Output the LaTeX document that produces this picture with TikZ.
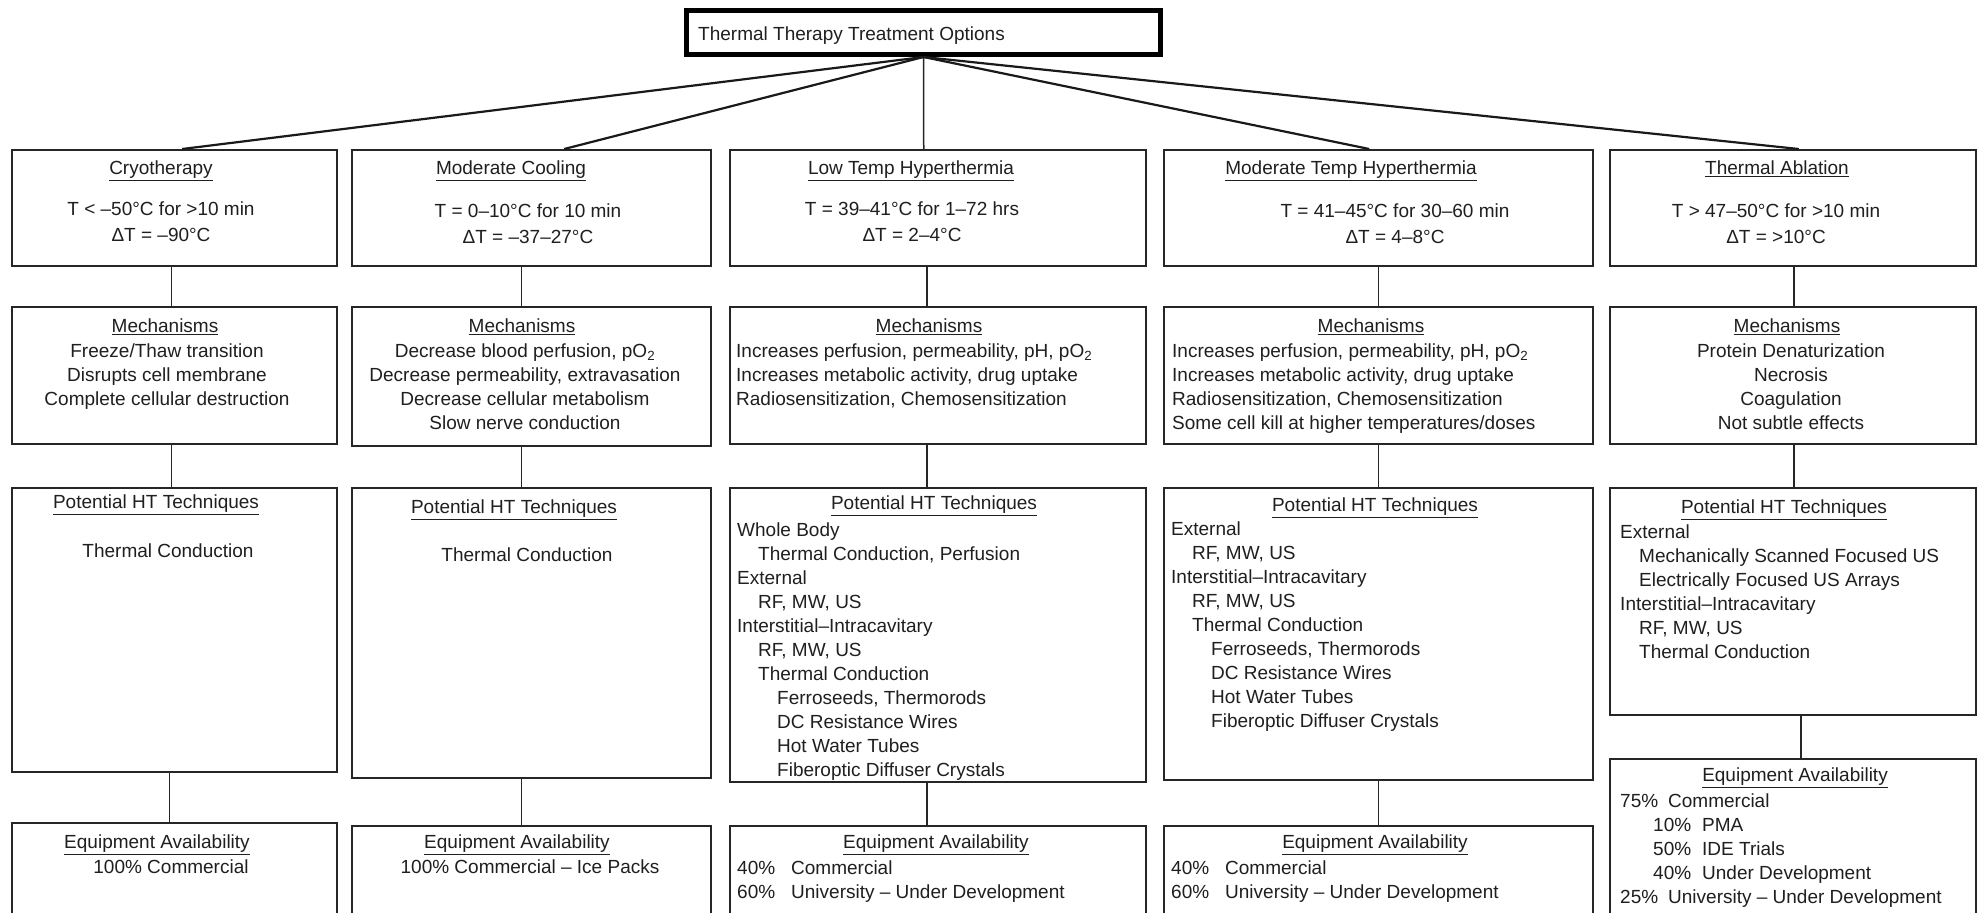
\documentclass[tikz,border=0pt]{standalone}
\usepackage{fontspec}
\setmainfont{Liberation Sans}
\newcommand\fs{\rule{0pt}{14pt}}
\newcommand\ia{\hspace*{21pt}}
\newcommand\ib{\hspace*{40pt}}
\begin{document}
\begin{tikzpicture}[x=1pt,y=-1pt,
  box/.style={draw=black!85, line width=1.5pt, anchor=north west, inner sep=0pt},
  headbox/.style={draw=black, line width=5pt, anchor=north west, inner sep=0pt},
  fan/.style={draw=black!90, line width=2.2pt},
  link/.style={draw=black!85, line width=1.5pt},
  txt/.style={inner sep=0pt, text=black!88, font=\fontsize{19}{24}\selectfont},
  one/.style={txt, text height=13.6pt, text depth=0pt},
  listl/.style={txt, anchor=north west, align=left},
  listc/.style={txt, anchor=north, align=center},
]
\useasboundingbox (0,0) rectangle (1979,913);
\fill[white] (0,0) rectangle (1979,913);

% root
\node[headbox, minimum width=474pt, minimum height=44pt] (top) at (684,8) {};
\node[one, anchor=west] (toptxt) at (698,34) {Thermal Therapy Treatment Options};

% ---------- boxes ----------
% Cryotherapy
\node[box, minimum width=325pt, minimum height=116pt] (cT) at (11,149) {};
\node[box, minimum width=325pt, minimum height=137pt] (cM) at (11,306) {};
\node[box, minimum width=325pt, minimum height=284pt] (cP) at (11,487) {};
\node[box, minimum width=325pt, minimum height=200pt] (cE) at (11,822) {};
% Moderate cooling
\node[box, minimum width=359pt, minimum height=116pt] (mT) at (351,149) {};
\node[box, minimum width=359pt, minimum height=139pt] (mM) at (351,306) {};
\node[box, minimum width=359pt, minimum height=290pt] (mP) at (351,487) {};
\node[box, minimum width=359pt, minimum height=200pt] (mE) at (351,825) {};
% Low temp hyperthermia
\node[box, minimum width=416pt, minimum height=116pt] (lT) at (729,149) {};
\node[box, minimum width=416pt, minimum height=137pt] (lM) at (729,306) {};
\node[box, minimum width=416pt, minimum height=294pt] (lP) at (729,487) {};
\node[box, minimum width=416pt, minimum height=200pt] (lE) at (729,825) {};
% Moderate temp hyperthermia
\node[box, minimum width=429pt, minimum height=116pt] (hT) at (1163,149) {};
\node[box, minimum width=429pt, minimum height=137pt] (hM) at (1163,306) {};
\node[box, minimum width=429pt, minimum height=292pt] (hP) at (1163,487) {};
\node[box, minimum width=429pt, minimum height=200pt] (hE) at (1163,825) {};
% Thermal ablation
\node[box, minimum width=366pt, minimum height=116pt] (aT) at (1609,149) {};
\node[box, minimum width=366pt, minimum height=137pt] (aM) at (1609,306) {};
\node[box, minimum width=366pt, minimum height=227pt] (aP) at (1609,487) {};
\node[box, minimum width=366pt, minimum height=250pt] (aE) at (1609,758) {};

% ---------- connectors ----------
\draw[fan] (top.south) -- ([xshift=8pt]cT.north);
\draw[fan] (top.south) -- ([xshift=33pt]mT.north);
\draw[link] (top.south) -- ([xshift=-14pt]lT.north);
\draw[fan] (top.south) -- ([xshift=-9pt]hT.north);
\draw[fan] (top.south) -- ([xshift=6pt]aT.north);

\draw[link] ([xshift=-3pt]cT.south) -- ([xshift=-3pt]cM.north);
\draw[link] ([xshift=-3pt]cM.south) -- ([xshift=-3pt]cP.north);
\draw[link] ([xshift=-5pt]cP.south) -- ([xshift=-5pt]cE.north);
\draw[link] ([xshift=-10pt]mT.south) -- ([xshift=-10pt]mM.north);
\draw[link] ([xshift=-10pt]mM.south) -- ([xshift=-10pt]mP.north);
\draw[link] ([xshift=-10pt]mP.south) -- ([xshift=-10pt]mE.north);
\draw[link] ([xshift=-11pt]lT.south) -- ([xshift=-11pt]lM.north);
\draw[link] ([xshift=-11pt]lM.south) -- ([xshift=-11pt]lP.north);
\draw[link] ([xshift=-11pt]lP.south) -- ([xshift=-11pt]lE.north);
\draw[link] (hT.south) -- (hM.north);
\draw[link] (hM.south) -- (hP.north);
\draw[link] (hP.south) -- (hE.north);
\draw[link] ([xshift=1pt]aT.south) -- ([xshift=1pt]aM.north);
\draw[link] ([xshift=1pt]aM.south) -- ([xshift=1pt]aP.north);
\draw[link] ([xshift=8pt]aP.south) -- ([xshift=8pt]aE.north);

% ---------- row 1: temperature ranges ----------
\node[one] (cTt) at (161,168) {\underline{Cryotherapy}};
\node[listc] (cTb) at (161,201) {\fs T < –50°C for >10 min\\[2pt] ΔT = –90°C};
\node[one] (mTt) at (511,168) {\underline{Moderate Cooling}};
\node[listc] (mTb) at (528,203) {\fs T = 0–10°C for 10 min\\[2pt] ΔT = –37–27°C};
\node[one] (lTt) at (911,168) {\underline{Low Temp Hyperthermia}};
\node[listc] (lTb) at (912,201) {\fs T = 39–41°C for 1–72 hrs\\[2pt] ΔT = 2–4°C};
\node[one] (hTt) at (1351,168) {\underline{Moderate Temp Hyperthermia}};
\node[listc] (hTb) at (1395,203) {\fs T = 41–45°C for 30–60 min\\[2pt] ΔT = 4–8°C};
\node[one] (aTt) at (1777,168) {\underline{Thermal Ablation}};
\node[listc] (aTb) at (1776,203) {\fs T > 47–50°C for >10 min\\[2pt] ΔT = >10°C};

% ---------- row 2: mechanisms ----------
\node[one] (cMt) at (165,326) {\underline{Mechanisms}};
\node[listc] (cMb) at (167,343) {\fs Freeze/Thaw transition\\Disrupts cell membrane\\Complete cellular destruction};
\node[one] (mMt) at (522,326) {\underline{Mechanisms}};
\node[listc] (mMb) at (525,343) {\fs Decrease blood perfusion, pO\textsubscript{2}\\Decrease permeability, extravasation\\Decrease cellular metabolism\\Slow nerve conduction};
\node[one] (lMt) at (929,326) {\underline{Mechanisms}};
\node[listl] (lMb) at (736,343) {\fs Increases perfusion, permeability, pH, pO\textsubscript{2}\\Increases metabolic activity, drug uptake\\Radiosensitization, Chemosensitization};
\node[one] (hMt) at (1371,326) {\underline{Mechanisms}};
\node[listl] (hMb) at (1172,343) {\fs Increases perfusion, permeability, pH, pO\textsubscript{2}\\Increases metabolic activity, drug uptake\\Radiosensitization, Chemosensitization\\Some cell kill at higher temperatures/doses};
\node[one] (aMt) at (1787,326) {\underline{Mechanisms}};
\node[listc] (aMb) at (1791,343) {\fs Protein Denaturization\\Necrosis\\Coagulation\\Not subtle effects};

% ---------- row 3: techniques ----------
\node[one] (cPt) at (156,502) {\underline{Potential HT Techniques}};
\node[one] (cPb) at (168,551) {Thermal Conduction};
\node[one] (mPt) at (514,507) {\underline{Potential HT Techniques}};
\node[one] (mPb) at (527,555) {Thermal Conduction};
\node[one] (lPt) at (934,503) {\underline{Potential HT Techniques}};
\node[listl] (lPb) at (737,522) {\fs Whole Body\\\ia Thermal Conduction, Perfusion\\External\\\ia RF, MW, US\\Interstitial–Intracavitary\\\ia RF, MW, US\\\ia Thermal Conduction\\\ib Ferroseeds, Thermorods\\\ib DC Resistance Wires\\\ib Hot Water Tubes\\\ib Fiberoptic Diffuser Crystals};
\node[one] (hPt) at (1375,505) {\underline{Potential HT Techniques}};
\node[listl] (hPb) at (1171,521) {\fs External\\\ia RF, MW, US\\Interstitial–Intracavitary\\\ia RF, MW, US\\\ia Thermal Conduction\\\ib Ferroseeds, Thermorods\\\ib DC Resistance Wires\\\ib Hot Water Tubes\\\ib Fiberoptic Diffuser Crystals};
\node[one] (aPt) at (1784,507) {\underline{Potential HT Techniques}};
\node[listl] (aPb) at (1620,524) {\fs External\\\hspace*{19pt}Mechanically Scanned Focused US\\\hspace*{19pt}Electrically Focused US Arrays\\Interstitial–Intracavitary\\\hspace*{19pt}RF, MW, US\\\hspace*{19pt}Thermal Conduction};

% ---------- row 4: equipment ----------
\node[one] (cEt) at (157,842) {\underline{Equipment Availability}};
\node[one] (cEb) at (171,867) {100\% Commercial};
\node[one] (mEt) at (517,842) {\underline{Equipment Availability}};
\node[one] (mEb) at (530,867) {100\% Commercial – Ice Packs};
\node[one] (lEt) at (936,842) {\underline{Equipment Availability}};
\node[listl] (lEb) at (737,860) {\fs\makebox[54pt][l]{40\%}Commercial\\\makebox[54pt][l]{60\%}University – Under Development};
\node[one] (hEt) at (1375,842) {\underline{Equipment Availability}};
\node[listl] (hEb) at (1171,860) {\fs\makebox[54pt][l]{40\%}Commercial\\\makebox[54pt][l]{60\%}University – Under Development};
\node[one] (aEt) at (1795,775) {\underline{Equipment Availability}};
\node[listl] (aEb) at (1620,793) {\fs\makebox[48pt][l]{75\%}Commercial\\\hspace*{33pt}\makebox[49pt][l]{10\%}PMA\\\hspace*{33pt}\makebox[49pt][l]{50\%}IDE Trials\\\hspace*{33pt}\makebox[49pt][l]{40\%}Under Development\\\makebox[48pt][l]{25\%}University – Under Development};
\end{tikzpicture}
\end{document}
